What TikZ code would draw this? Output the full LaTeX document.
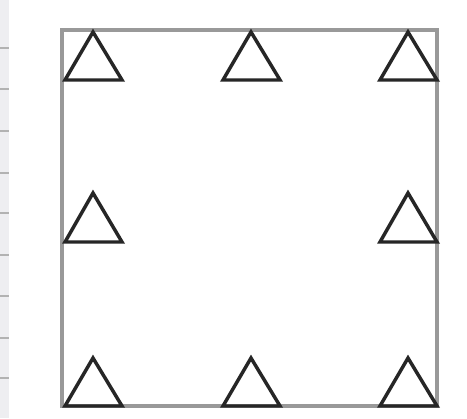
\documentclass[tikz,border=0pt]{standalone}
\usepackage{tikz}

\tikzset{
  frameline/.style={draw=gray!80,line width=2.4pt},
  triline/.style={draw=black!85,line width=2.6pt,line join=miter},
  ruledstrip/.style={fill=blue!8!gray!12},
  ruleline/.style={draw=gray!60,line width=1.2pt}
}

\begin{document}
\begin{tikzpicture}[x=0.75pt,y=-0.75pt]
  % canvas 467 x 418 (pixel units, y downwards)
  \useasboundingbox (0,0) rectangle (467,418);
  \fill[white] (0,0) rectangle (467,418);

  % ruled paper strip at the left edge
  \fill[ruledstrip] (0,0) rectangle (9,418);
  \foreach \yr in {48,89,131,173,213,255,296,338,378} {
    \draw[ruleline] (0,\yr) -- (9,\yr);
  }

  % square frame
  \draw[frameline] (62,30) rectangle (437,406);

  % triangles: apex x / apex y / base y
  % top row 3, middle row 2 (left,right), bottom row 3
  \foreach \ax/\ay/\by in {%
    93/32/80, 251/32/80, 408/32/80,
    93/193/242, 408/193/242,
    93/358/406, 251/358/406, 408/358/406} {
    \draw[triline] (\ax,\ay) -- (\ax+29,\by) -- (\ax-28,\by) -- cycle;
  }
\end{tikzpicture}
\end{document}
